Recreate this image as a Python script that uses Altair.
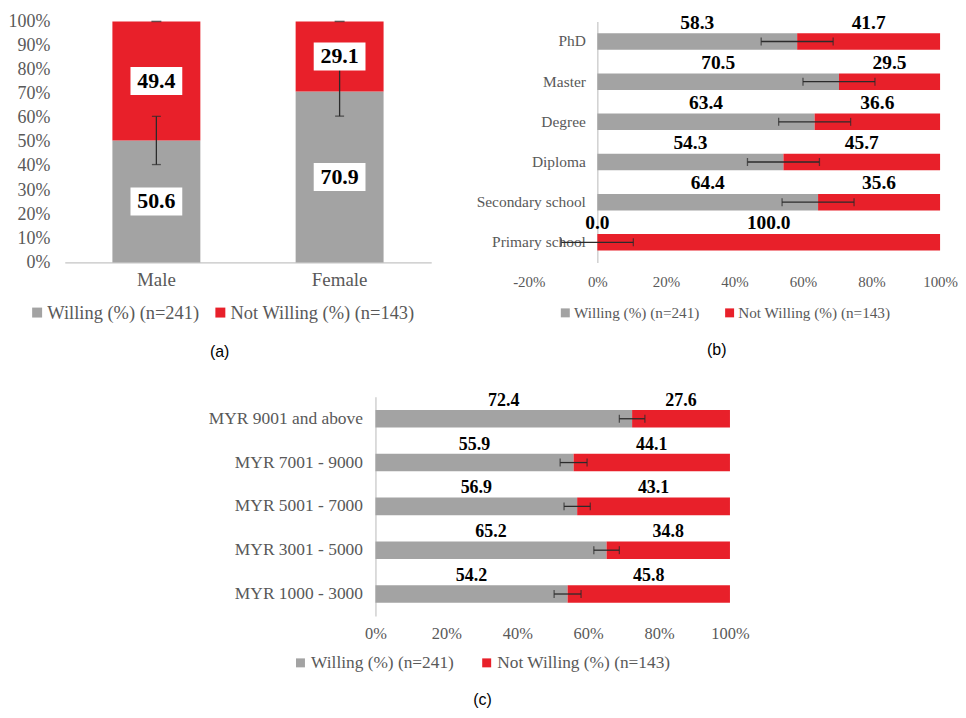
import altair as alt
import pandas as pd

# ---------------- data ----------------
series = ["Willing (%) (n=241)", "Not Willing (%) (n=143)"]

gender = ["Male", "Female"]
gender_willing = [50.6, 70.9]
gender_not_willing = [49.4, 29.1]
gender_error = [10.0, 10.2]

education = ["PhD", "Master", "Degree", "Diploma", "Secondary school", "Primary school"]
edu_willing = [58.3, 70.5, 63.4, 54.3, 64.4, 0.0]
edu_not_willing = [41.7, 29.5, 36.6, 45.7, 35.6, 100.0]
edu_error = [10.5, 10.5, 10.5, 10.5, 10.5, 10.5]

income = ["MYR 9001 and above", "MYR 7001 - 9000", "MYR 5001 - 7000",
          "MYR 3001 - 5000", "MYR 1000 - 3000"]
inc_willing = [72.4, 55.9, 56.9, 65.2, 54.2]
inc_not_willing = [27.6, 44.1, 43.1, 34.8, 45.8]
inc_error = [3.6, 3.8, 3.7, 3.6, 3.8]

ticks_a = [0, 10, 20, 30, 40, 50, 60, 70, 80, 90, 100]
ticks_b = [-20, 0, 20, 40, 60, 80, 100]
ticks_c = [0, 20, 40, 60, 80, 100]
captions = ["(a)", "(b)", "(c)"]

# ---------------- style ----------------
SERIF = "Liberation Serif"
SANS = "Liberation Sans"
TXT = "#595959"
GRAY = "#a3a3a3"
RED = "#e8202a"
EB = "#2b2b2b"
AXIS_LINE = "#c4c4c4"


def stack_table(cats, willing, not_willing):
    rows = []
    for c, w, n in zip(cats, willing, not_willing):
        rows.append({"cat": c, "series": series[0], "value": w,
                     "start": 0.0, "end": w, "mid": w / 2})
        rows.append({"cat": c, "series": series[1], "value": n,
                     "start": w, "end": w + n, "mid": w + n / 2})
    return pd.DataFrame(rows)


def error_table(cats, willing, err):
    return pd.DataFrame({"cat": cats,
                         "lo": [w - e for w, e in zip(willing, err)],
                         "hi": [w + e for w, e in zip(willing, err)]})


color_scale = alt.Scale(domain=series, range=[GRAY, RED])


def legend(x, y, fs, offset, colpad, sym):
    return alt.Legend(title=None, orient="none", legendX=x, legendY=y,
                      direction="horizontal", columns=2,
                      symbolType="square", symbolSize=sym, symbolStrokeWidth=0,
                      labelFont=SERIF, labelFontSize=fs, labelColor=TXT,
                      labelOffset=offset, columnPadding=colpad, labelLimit=400,
                      padding=0)


def caption(text, offset, dx=0):
    return alt.TitleParams(text, orient="bottom", anchor="middle", frame="bounds",
                           font=SANS, fontSize=16, fontWeight="normal",
                           color="black", offset=offset, dx=dx)


# ---------------- panel (a) ----------------
dfA = stack_table(gender, gender_willing, gender_not_willing)
errA = error_table(gender, gender_willing, gender_error)

xaxisA = alt.Axis(labelAngle=0, ticks=False, domainColor=AXIS_LINE,
                  domainWidth=1.2, labelFont=SERIF, labelFontSize=19,
                  labelColor=TXT, labelPadding=8)
xscaleA = alt.Scale(paddingInner=0.52, paddingOuter=0.26)
yscaleA = alt.Scale(domain=[0, 100], nice=False)
yaxisA = alt.Axis(values=ticks_a, labelExpr="datum.value + '%'", domain=False,
                  ticks=False, grid=False, labelFont=SERIF, labelFontSize=18,
                  labelColor=TXT, labelPadding=15, labelOverlap=False,
                  labelFlush=False)


def XA():
    return alt.X("cat:N", sort=gender, title=None, scale=xscaleA, axis=xaxisA)


def YA(field):
    return alt.Y(field, scale=yscaleA, axis=yaxisA, title=None)


barsA = alt.Chart(dfA).mark_bar().encode(
    x=XA(), y=YA("start:Q"), y2="end:Q",
    color=alt.Color("series:N", scale=color_scale,
                    legend=legend(-37, 283, 18.5, 1, 11, 100)),
)
ruleA = alt.Chart(errA).mark_rule(color=EB, strokeWidth=1.3).encode(
    x=XA(), y=YA("lo:Q"), y2="hi:Q")
capsA = alt.Chart(errA).transform_fold(["lo", "hi"], as_=["kind", "pos"]).mark_tick(
    orient="horizontal", size=9, thickness=1.3, color=EB).encode(
    x=XA(), y=YA("pos:Q"))
topA = alt.Chart(dfA).transform_filter(alt.datum.series == series[1]).mark_tick(
    orient="horizontal", size=10, thickness=1.5, color=EB).encode(
    x=XA(), y=YA("end:Q"))
boxA = alt.Chart(dfA).mark_point(
    shape="M-1,-0.54L1,-0.54L1,0.54L-1,0.54Z", size=2704, filled=True,
    color="white", opacity=1, strokeWidth=0).encode(
    x=XA(), y=YA("mid:Q"))
textA = alt.Chart(dfA).mark_text(
    font=SERIF, fontSize=22, fontWeight="bold", color="black",
    baseline="middle").encode(
    x=XA(), y=YA("mid:Q"),
    text=alt.Text("value:Q", format=".1f"))

panelA = alt.layer(barsA, ruleA, capsA, topA, boxA, textA).properties(
    width=368, height=242, title=caption(captions[0], 22))

# ---------------- panel (b) ----------------
dfB = stack_table(education, edu_willing, edu_not_willing)
errB = error_table(education, edu_willing, edu_error)
WB = 413
domB = [ticks_b[0], ticks_b[-1]]

yscaleB = alt.Scale(paddingInner=0.59, paddingOuter=0.295)
yaxisB = alt.Axis(offset=-WB * (0 - domB[0]) / (domB[1] - domB[0]),
                  ticks=False, domainColor=AXIS_LINE, domainWidth=1.2,
                  labelFont=SERIF, labelFontSize=15.5, labelColor=TXT,
                  labelPadding=12)
xscaleB = alt.Scale(domain=domB, nice=False)
xaxisB = alt.Axis(values=ticks_b, labelExpr="datum.value + '%'",
                  domain=False, ticks=False, grid=False, labelFont=SERIF,
                  labelFontSize=15, labelColor=TXT, labelPadding=12,
                  labelFlush=False, labelOverlap=False)


def YB():
    return alt.Y("cat:N", sort=education, title=None, scale=yscaleB, axis=yaxisB)


def XB(field):
    return alt.X(field, scale=xscaleB, axis=xaxisB, title=None)


barsB = alt.Chart(dfB).mark_bar().encode(
    y=YB(), x=XB("start:Q"), x2="end:Q",
    color=alt.Color("series:N", scale=color_scale,
                    legend=legend(29, 285, 15.3, 1, 22, 81)))
ruleB = alt.Chart(errB).mark_rule(color=EB, strokeWidth=1.3).encode(
    y=YB(), x=XB("lo:Q"), x2="hi:Q")
capsB = alt.Chart(errB).transform_fold(["lo", "hi"], as_=["kind", "pos"]).mark_tick(
    orient="vertical", size=8, thickness=1.3, color=EB).encode(
    y=YB(), x=XB("pos:Q"))
textB = alt.Chart(dfB).mark_text(
    font=SERIF, fontSize=19.5, fontWeight="bold", color="black",
    baseline="middle", dy=-19).encode(
    y=YB(), x=XB("mid:Q"),
    text=alt.Text("value:Q", format=".1f"))

panelB = alt.layer(barsB, ruleB, capsB, textB).properties(
    width=WB, height=242, title=caption(captions[1], 21))

# ---------------- panel (c) ----------------
dfC = stack_table(income, inc_willing, inc_not_willing)
errC = error_table(income, inc_willing, inc_error)

yscaleC = alt.Scale(paddingInner=0.6, paddingOuter=0.3)
yaxisC = alt.Axis(ticks=False, domainColor=AXIS_LINE, domainWidth=1.2,
                  labelFont=SERIF, labelFontSize=17.5, labelColor=TXT,
                  labelPadding=13)
xscaleC = alt.Scale(domain=[0, 100], nice=False)
xaxisC = alt.Axis(values=ticks_c, labelExpr="datum.value + '%'",
                  domain=False, ticks=False, grid=False, labelFont=SERIF,
                  labelFontSize=16.5, labelColor=TXT, labelPadding=10,
                  labelFlush=False, labelOverlap=False)


def YC():
    return alt.Y("cat:N", sort=income, title=None, scale=yscaleC, axis=yaxisC)


def XC(field):
    return alt.X(field, scale=xscaleC, axis=xaxisC, title=None)


barsC = alt.Chart(dfC).mark_bar().encode(
    y=YC(), x=XC("start:Q"), x2="end:Q",
    color=alt.Color("series:N", scale=color_scale,
                    legend=legend(-84, 258, 17.4, 2, 24, 81)))
ruleC = alt.Chart(errC).mark_rule(color=EB, strokeWidth=1.3).encode(
    y=YC(), x=XC("lo:Q"), x2="hi:Q")
capsC = alt.Chart(errC).transform_fold(["lo", "hi"], as_=["kind", "pos"]).mark_tick(
    orient="vertical", size=8, thickness=1.3, color=EB).encode(
    y=YC(), x=XC("pos:Q"))
textC = alt.Chart(dfC).mark_text(
    font=SERIF, fontSize=18, fontWeight="bold", color="black",
    baseline="middle", dy=-18).encode(
    y=YC(), x=XC("mid:Q"),
    text=alt.Text("value:Q", format=".1f"))

panelC = alt.layer(barsC, ruleC, capsC, textC).properties(
    width=356, height=220, title=caption(captions[2], 20, dx=4))

# empty frame (no data, nothing drawn) that only reserves the left margin of row (c)
spacer = alt.Chart(alt.Data(values=[])).mark_point().encode(
    x=alt.value(0), y=alt.value(0)).properties(width=143, height=1)

# ---------------- layout ----------------
row1 = alt.hconcat(panelA, panelB, spacing=45).resolve_scale(color="independent")
row2 = alt.hconcat(spacer, panelC, spacing=0).resolve_scale(color="independent")
chart = alt.vconcat(row1, row2, spacing=31).resolve_scale(
    color="independent").properties(
    padding={"left": 0, "top": 3, "right": 0, "bottom": 0}).configure(
    font=SERIF).configure_view(stroke=None)

chart.save("out.html", embed_options={"renderer": "svg", "actions": False})
